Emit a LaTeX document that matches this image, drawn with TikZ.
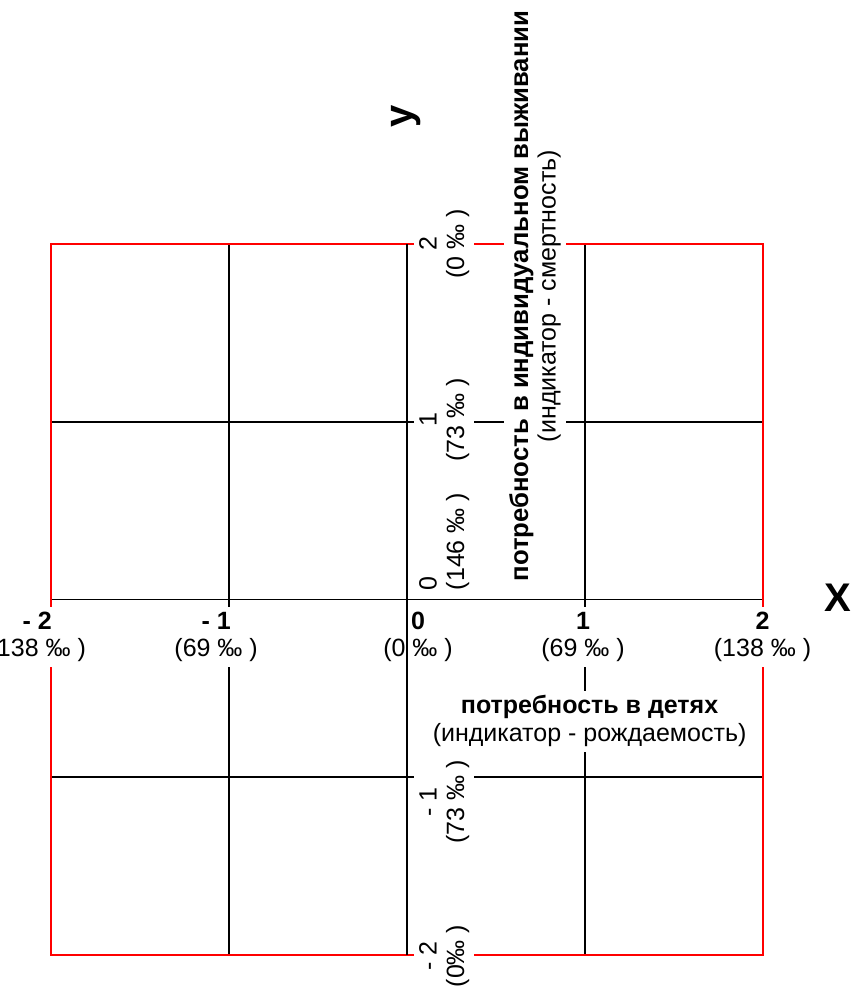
\documentclass[tikz,border=0pt]{standalone}
\usepackage{fontspec}
\setmainfont{Liberation Sans}

\begin{document}
\begin{tikzpicture}[x=2.5cm,y=2.5cm,
    gridline/.style={black,line width=0.7pt},
    frameline/.style={red,line width=0.8pt},
    ticklabel/.style={align=center,fill=white,inner sep=2pt,font=\fontsize{10}{11}\selectfont},
    axistitle/.style={align=center,fill=white,inner sep=2pt,font=\fontsize{10}{11}\selectfont},
    axisletter/.style={inner sep=1pt,font=\fontsize{16}{18}\selectfont\bfseries}]
  \useasboundingbox (-2.2897,-2.2025) rectangle (2.4979,3.3727);
  %% inner grid
  \foreach \k in {-1,1} {
    \draw[gridline] (\k,-2) -- (\k,2);
    \draw[gridline] (-2,\k) -- (2,\k);
  }
  \draw[gridline] (-2,0) -- (2,0);
  %% outer frame
  \draw[frameline] (-2,-2) rectangle (2,2);
  %% x axis ticks
  \node[ticklabel] (xm2) at (-2.08,-0.211) {\textbf{- 2}\\(138 ‰ )};
  \node[ticklabel] (xm1) at (-1.074,-0.211) {\textbf{- 1}\\(69 ‰ )};
  \node[ticklabel,fill=none] (x0) at (0.062,-0.211) {\textbf{0}\\(0 ‰ )};
  \node[ticklabel] (x1) at (0.99,-0.211) {\textbf{1}\\(69 ‰ )};
  \node[ticklabel] (x2) at (2,-0.211) {\textbf{2}\\(138 ‰ )};
  %% y axis ticks
  \node[ticklabel,rotate=90] (y2) at (0.21,2) {2\\(0 ‰ )};
  \node[ticklabel,rotate=90] (y1) at (0.21,1.01) {1\\(73 ‰ )};
  \node[ticklabel,rotate=90,align=left] (y0) at (0.21,0.326) {0\\(146 ‰ )};
  \node[ticklabel,rotate=90] (ym1) at (0.21,-1.139) {- 1\\(73 ‰ )};
  \node[ticklabel,rotate=90] (ym2) at (0.21,-2.006) {- 2\\(0‰ )};
  %% axis titles
  \node[axistitle,rotate=90] (ytitle) at (0.72,1.707) {\textbf{\fontsize{10.3}{11}\selectfont потребность в индивидуальном выживании}\\(индикатор - смертность)};
  \node[axistitle] (xtitle) at (1.027,-0.684) {\textbf{потребность в детях}\\(индикатор - рождаемость)};
  \node[axisletter] (xletter) at (2.425,0.008) {X};
  \node[axisletter,rotate=90] (yletter) at (-0.006,2.72) {y};
  %% centre axis over the labels
  \draw[gridline] (0,-2) -- (0,2);
\end{tikzpicture}
\end{document}
